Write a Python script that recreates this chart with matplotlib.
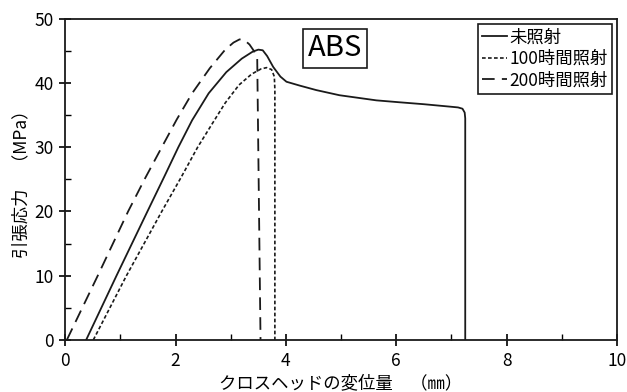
import matplotlib
matplotlib.use("Agg")
import matplotlib.pyplot as plt
from matplotlib.ticker import MultipleLocator

plt.rcParams['font.family'] = ['Noto Sans CJK JP', 'DejaVu Sans']

# 未照射
x_none = [0.38, 0.93, 1.49, 1.80, 2.05, 2.30, 2.60, 2.92, 3.20, 3.40, 3.50, 3.58, 3.66, 3.77,
          3.90, 4.01, 4.25, 4.55, 4.97, 5.64, 6.06, 6.50, 7.00, 7.12, 7.20, 7.24, 7.25, 7.25]
y_none = [0, 10, 20, 25.5, 30, 34.2, 38.4, 41.7, 43.8, 44.9, 45.2, 45.1, 44.2, 42.5,
          41.0, 40.2, 39.6, 38.9, 38.1, 37.3, 37.0, 36.7, 36.3, 36.2, 36.0, 35.4, 34.5, 0]

# 100時間照射
x_100 = [0.51, 1.11, 1.75, 2.10, 2.40, 2.66, 2.90, 3.15, 3.38, 3.55, 3.65, 3.74, 3.79, 3.80, 3.80]
y_100 = [0, 10, 20, 25.3, 30, 33.6, 36.9, 39.7, 41.4, 42.2, 42.4, 42.1, 41.0, 39.0, 0]

# 200時間照射
x_200 = [0.03, 0.59, 1.14, 1.45, 1.75, 2.02, 2.30, 2.62, 2.90, 3.05, 3.16, 3.26, 3.34, 3.42, 3.48, 3.54]
y_200 = [0, 10, 20, 25.2, 30, 34.3, 38.4, 42.3, 45.2, 46.3, 46.8, 46.6, 46.0, 45.0, 43.8, 0]

labels = ["未照射", "100時間照射", "200時間照射"]

fig = plt.figure(figsize=(6.27, 3.92), dpi=100)
ax = fig.add_axes([0.104, 0.133, 0.880, 0.819])

lc = "#1a1a1a"
ax.plot(x_none, y_none, color=lc, lw=1.3, ls="-", label=labels[0])
ax.plot(x_100, y_100, color=lc, lw=1.2, ls=(0, (2.2, 1.4)), label=labels[1])
ax.plot(x_200, y_200, color=lc, lw=1.3, ls=(0, (7, 4)), label=labels[2])

ax.set_xlim(0, 10)
ax.set_ylim(0, 50)
ax.xaxis.set_major_locator(MultipleLocator(2))
ax.xaxis.set_minor_locator(MultipleLocator(1))
ax.yaxis.set_major_locator(MultipleLocator(10))
ax.yaxis.set_minor_locator(MultipleLocator(5))
ax.tick_params(which="major", direction="inout", length=9, width=1.2, labelsize=12.5, pad=4)
ax.tick_params(which="minor", direction="in", length=4, width=1.0)
for s in ax.spines.values():
    s.set_linewidth(1.3)
    s.set_color(lc)

ax.set_xlabel("クロスヘッドの変位量　（㎜）", fontsize=12.5, labelpad=3)
ax.set_ylabel("引張応力　（MPa）", fontsize=12.5, labelpad=3)

ax.text(4.89, 45.4, "ABS", fontsize=21, ha="center", va="center",
        bbox=dict(boxstyle="square,pad=0.15", fc="white", ec=lc, lw=1.2))

leg = ax.legend(loc="upper right", fontsize=12.5, handlelength=1.45, handletextpad=0.1,
                labelspacing=0.2, borderpad=0.25, borderaxespad=0.3,
                fancybox=False, edgecolor=lc, framealpha=1)
leg.get_frame().set_linewidth(1.2)

fig.savefig("out.png", dpi=100)
